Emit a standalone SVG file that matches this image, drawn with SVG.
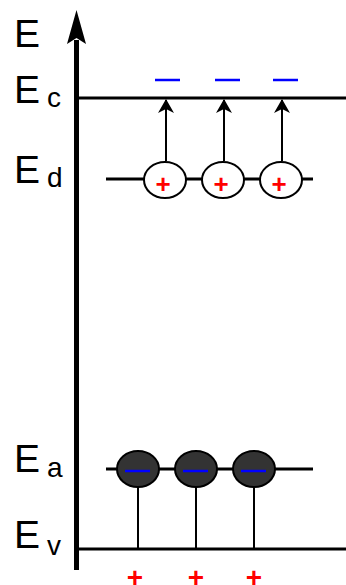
<svg xmlns="http://www.w3.org/2000/svg" width="346" height="585" viewBox="0 0 346 585">
<style>
.lbl{font-family:"Liberation Sans",Arial,sans-serif;fill:#000}
.big{font-size:39px}
.sub{font-size:28px}
.plus{font-family:"Liberation Sans",Arial,sans-serif;font-weight:bold;fill:#ff0000;text-anchor:middle}
.lvl{stroke:#000;stroke-width:3;fill:none}
.thin{stroke:#000;stroke-width:2;fill:none}
.dash{stroke:#0000ff;stroke-width:2.5}
.donor{fill:#fff;stroke:#000;stroke-width:2}
.acc{fill:#333;stroke:#000;stroke-width:2}
</style>
<defs>
<marker id="ah" viewBox="0 0 14 16" refX="13" refY="8" markerWidth="14" markerHeight="16" markerUnits="userSpaceOnUse" orient="auto">
<path d="M14,8 L0,0 L4,8 L0,16 Z" fill="#000"/>
</marker>
</defs>
<g id="axis">
<line x1="76.5" y1="40" x2="76.5" y2="570" stroke="#000" stroke-width="5"/>
<path d="M76.5,10 L86,44 L76.5,38 L67,44 Z" fill="#000"/>
<text class="lbl big" x="14" y="47">E</text>
</g>
<g id="Ec">
<line class="lvl" x1="79" y1="98" x2="346" y2="98"/>
<text class="lbl big" x="14" y="103">E</text>
<text class="lbl sub" x="47" y="107">c</text>
</g>
<g id="Ed">
<line class="lvl" x1="106" y1="179" x2="313" y2="179"/>
<text class="lbl big" x="14" y="183">E</text>
<text class="lbl sub" x="47" y="187">d</text>
</g>
<g id="Ea">
<line class="lvl" x1="106" y1="469" x2="313" y2="469"/>
<text class="lbl big" x="14" y="472">E</text>
<text class="lbl sub" x="47" y="477">a</text>
</g>
<g id="Ev">
<line class="lvl" x1="79" y1="549" x2="346" y2="549"/>
<text class="lbl big" x="14" y="548">E</text>
<text class="lbl sub" x="47" y="555">v</text>
</g>
<g id="connectors">
<line class="thin" x1="166" y1="161" x2="166" y2="100" marker-end="url(#ah)"/>
<line class="thin" x1="224" y1="161" x2="224" y2="100" marker-end="url(#ah)"/>
<line class="thin" x1="282" y1="161" x2="282" y2="100" marker-end="url(#ah)"/>
<line class="thin" x1="138" y1="487" x2="138" y2="549"/>
<line class="thin" x1="196" y1="487" x2="196" y2="549"/>
<line class="thin" x1="254" y1="487" x2="254" y2="549"/>
</g>
<g id="electrons-cb">
<line class="dash" x1="155" y1="80" x2="180" y2="80"/>
<line class="dash" x1="215" y1="80" x2="240" y2="80"/>
<line class="dash" x1="273" y1="80" x2="298" y2="80"/>
</g>
<g id="donor1"><ellipse class="donor" cx="165" cy="180" rx="21" ry="18"/><text class="plus" x="163" y="193" font-size="26">+</text></g>
<g id="donor2"><ellipse class="donor" cx="223" cy="180" rx="21" ry="18"/><text class="plus" x="221" y="193" font-size="26">+</text></g>
<g id="donor3"><ellipse class="donor" cx="281" cy="180" rx="21" ry="18"/><text class="plus" x="279" y="193" font-size="26">+</text></g>
<g id="acceptor1"><ellipse class="acc" cx="138" cy="469" rx="21" ry="18"/><line class="dash" x1="125" y1="471" x2="150" y2="471"/></g>
<g id="acceptor2"><ellipse class="acc" cx="196" cy="469" rx="21" ry="18"/><line class="dash" x1="183" y1="471" x2="208" y2="471"/></g>
<g id="acceptor3"><ellipse class="acc" cx="254" cy="469" rx="21" ry="18"/><line class="dash" x1="241" y1="471" x2="266" y2="471"/></g>
<g id="holes-vb">
<text class="plus" x="135" y="587" font-size="28">+</text>
<text class="plus" x="196" y="587" font-size="28">+</text>
<text class="plus" x="254" y="587" font-size="28">+</text>
</g>
</svg>
